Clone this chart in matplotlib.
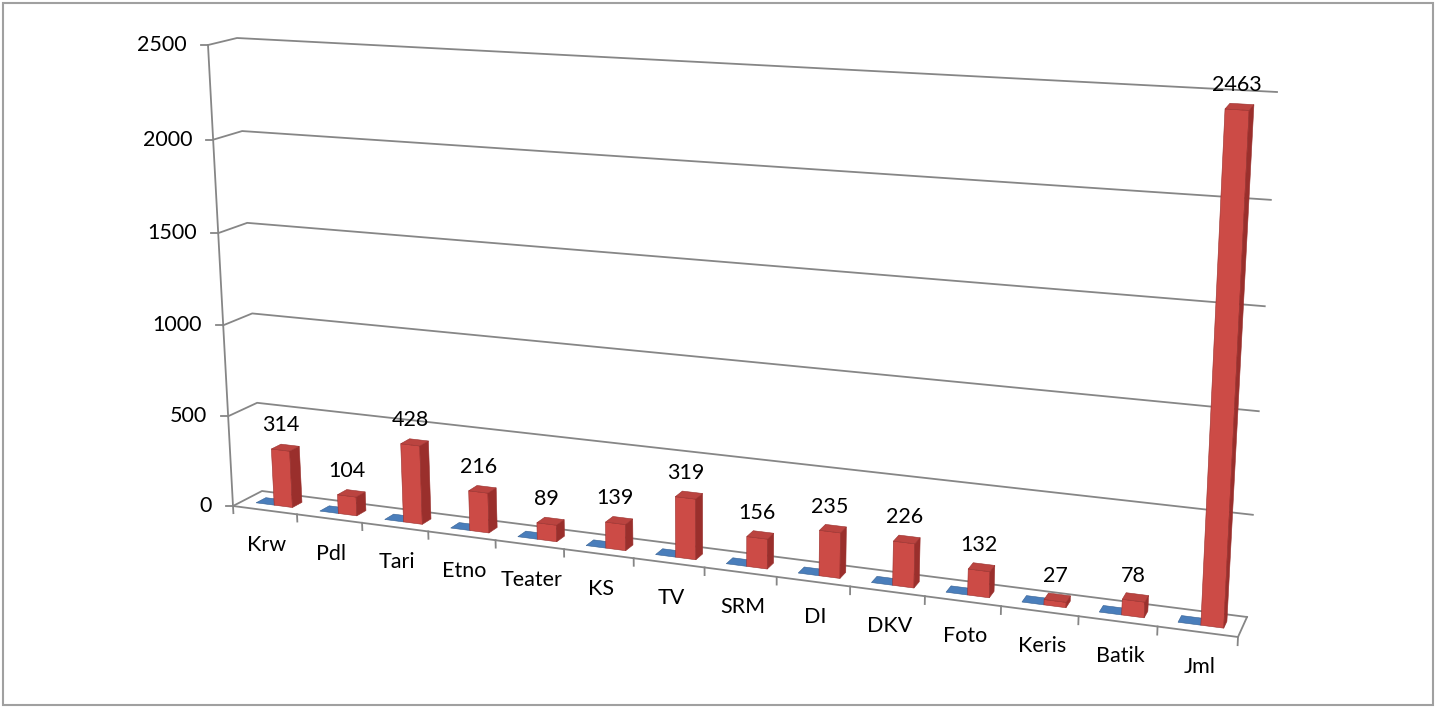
import numpy as np
import matplotlib.pyplot as plt
from matplotlib.patches import Polygon, Rectangle

plt.rcParams['font.family'] = ['Lato', 'DejaVu Sans']

# data
categories = ['Krw', 'Pdl', 'Tari', 'Etno', 'Teater', 'KS', 'TV', 'SRM',
              'DI', 'DKV', 'Foto', 'Keris', 'Batik', 'Jml']
series_blue = [0, 0, 0, 0, 0, 0, 0, 0, 0, 0, 0, 0, 0, 0]
series_red = [314, 104, 428, 216, 89, 139, 319, 156, 235, 226, 132, 27, 78, 2463]
y_ticks = [0, 500, 1000, 1500, 2000, 2500]

N = len(categories)
ZMAX = y_ticks[-1]

# pseudo 3D box (pixel corners of the front and back planes)
FRONT = {'bl': np.array([233, 506]), 'tl': np.array([208, 45]),
         'tr': np.array([1263, 109]), 'br': np.array([1238, 637])}
BACK = {'bl': np.array([262, 491]), 'tl': np.array([237, 38]),
        'tr': np.array([1277, 92]), 'br': np.array([1247, 617])}
KX = 0.884   # foreshortening along categories
KZ = 0.967   # foreshortening along values


def warp(u, k):
    return u * k / (1 - (1 - k) * u)


def plane_point(c, x, z):
    t = warp(x / N, KX)
    s = warp(z / ZMAX, KZ)
    bot = c['bl'] + t * (c['br'] - c['bl'])
    top = c['tl'] + t * (c['tr'] - c['tl'])
    return bot + s * (top - bot)


def proj(x, d, z):
    ''' category position x, depth d (0 front, 1 back), value z -> pixel '''
    f = plane_point(FRONT, x, z)
    b = plane_point(BACK, x, z)
    return f + d * (b - f)


def draw_bar(ax, x0, x1, v, front_c, side_c, top_c, zo):
    d0, d1 = 0.33, 0.67
    faces = []
    if v > 0:
        faces.append(([proj(x0, d0, 0), proj(x1, d0, 0), proj(x1, d0, v), proj(x0, d0, v)], front_c))
        faces.append(([proj(x1, d0, 0), proj(x1, d1, 0), proj(x1, d1, v), proj(x1, d0, v)], side_c))
    faces.append(([proj(x0, d0, v), proj(x1, d0, v), proj(x1, d1, v), proj(x0, d1, v)], top_c))
    for pts, col in faces:
        ax.add_patch(Polygon(np.array(pts), closed=True, facecolor=col,
                             edgecolor=side_c, linewidth=0.4, zorder=zo))


fig = plt.figure(figsize=(14.37, 7.08), dpi=100)
ax = fig.add_axes([0, 0, 1, 1])
ax.set_xlim(0, 1437)
ax.set_ylim(708, 0)
ax.axis('off')

# chart border
ax.add_patch(Rectangle((3, 3), 1430, 702, fill=False, edgecolor='#a0a0a0', linewidth=1.5))

grid_c = '#868686'
lw = 1.3
fs = 15.5

# gridlines on side and back walls
for z in y_ticks:
    pts = np.array([proj(0, 0, z), proj(0, 1, z), proj(N, 1, z)])
    ax.plot(pts[:, 0], pts[:, 1], color=grid_c, lw=lw, zorder=1)
    p = proj(0, 0, z)
    ax.plot([p[0] - 7, p[0]], [p[1], p[1]], color=grid_c, lw=lw, zorder=1)
    ax.text(p[0] - 21, p[1], f'{z}', ha='right', va='center', fontsize=fs, color='black')

# value axis and floor
pts = np.array([proj(0, 0, 0), proj(0, 0, ZMAX)])
ax.plot(pts[:, 0], pts[:, 1], color=grid_c, lw=lw, zorder=1)
pts = np.array([proj(0, 0, 0), proj(N, 0, 0), proj(N, 1, 0)])
ax.plot(pts[:, 0], pts[:, 1], color=grid_c, lw=lw, zorder=1)

# category ticks
for i in range(N + 1):
    pts = np.array([proj(i, 0, 0), proj(i, 0, -40)])
    ax.plot(pts[:, 0], pts[:, 1], color=grid_c, lw=lw, zorder=1)

# bars, labels
gap = 0.214
for i, cat in enumerate(categories):
    zo = 2 + i
    draw_bar(ax, i + gap, i + 0.5, series_blue[i], '#4f81bd', '#345f92', '#4a7ebb', zo)
    draw_bar(ax, i + 0.5, i + 1 - gap, series_red[i], '#cc4b46', '#9a2f2c', '#bb4440', zo + 0.5)

    top = proj(i + 0.5 + (0.5 - gap) / 2, 0.33, series_red[i])
    ax.text(top[0], top[1] - 25, f'{series_red[i]}', ha='center', va='center',
            fontsize=fs, color='black', zorder=30)

    p = proj(i + 0.5, 0, 0)
    ax.text(p[0] + 2, p[1] + 35, cat, ha='center', va='center', fontsize=fs, color='black')

fig.savefig('out.png', dpi=100)
